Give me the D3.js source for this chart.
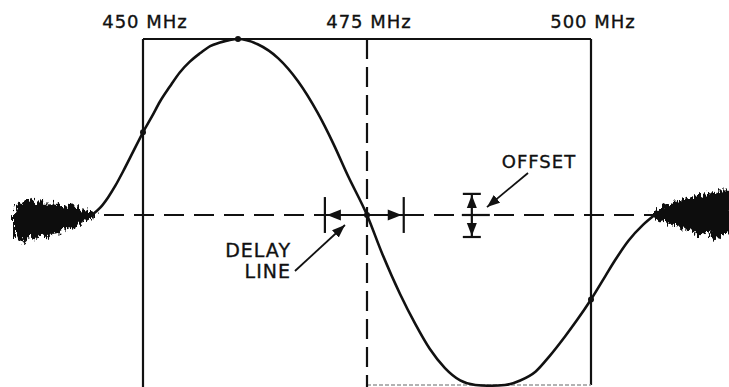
<!DOCTYPE html>
<html>
<head>
<meta charset="utf-8">
<script src="https://cdn.jsdelivr.net/npm/d3@7"></script>
<style>
  html, body { margin: 0; padding: 0; background: #fff; }
  svg { display: block; }
</style>
</head>
<body>
<svg id="chart" width="729" height="387"></svg>
<script>
// Frequency markers along the top edge (MHz)
const tickFreqs = [450, 475, 500];
const tickLabels = ["450 MHz", "475 MHz", "500 MHz"];

// Discriminator response: frequency (MHz) and normalized output
const traceFreq = [444.3, 445.2, 446.1, 446.9, 447.8, 448.9, 450.0, 451.0, 451.9, 453.0, 454.1, 455.2, 456.4, 457.5, 458.6, 459.7, 460.6,
  462.8, 465.1, 467.3, 469.5, 471.2, 472.9, 475.0, 476.7, 478.7, 480.4, 482.0, 483.7, 485.4,
  487.1, 488.7, 490.4, 492.1, 493.8, 495.4, 497.1, 498.4, 500.0, 501.6, 502.7, 504.2, 505.8, 507.1];
const traceValue = [0.0, 0.04, 0.10, 0.165, 0.25, 0.36, 0.47, 0.56, 0.645, 0.73, 0.81, 0.87, 0.92, 0.96, 0.98, 0.995, 1.00,
  0.97, 0.89, 0.76, 0.58, 0.41, 0.22, 0.0, -0.22, -0.45, -0.62, -0.76, -0.87, -0.94,
  -0.966, -0.97, -0.966, -0.94, -0.89, -0.80, -0.69, -0.60, -0.48, -0.347, -0.256, -0.145, -0.056, 0.0];

// Out-of-band noise envelopes (upper / lower edge) on each side
const leftNoiseFreq   = [435.6, 436.0, 436.7, 437.4, 438.0, 438.7, 439.4, 440.1, 440.7, 441.4, 442.1, 442.8, 443.5, 444.1, 444.6];
const leftNoiseTop    = [0.0, 0.045, 0.075, 0.090, 0.062, 0.080, 0.051, 0.065, 0.055, 0.040, 0.048, 0.028, 0.023, 0.017, 0.011];
const leftNoiseBottom = [-0.085, -0.130, -0.150, -0.115, -0.135, -0.100, -0.125, -0.090, -0.100, -0.080, -0.068, -0.051, -0.034, -0.017, 0.0];

const rightNoiseFreq   = [506.8, 507.7, 508.6, 509.5, 510.4, 511.3, 512.2, 513.1, 513.8, 514.5, 515.5];
const rightNoiseTop    = [0.011, 0.030, 0.055, 0.072, 0.085, 0.100, 0.112, 0.122, 0.115, 0.130, 0.145];
const rightNoiseBottom = [-0.006, -0.025, -0.038, -0.060, -0.072, -0.092, -0.112, -0.085, -0.135, -0.115, -0.095];

// Annotations
const delaySpan = [470.3, 479.1];          // delay-line marker limits (MHz)
const offsetFreq = 486.7;                  // offset marker position (MHz)
const offsetSpan = [0.12, -0.125];         // offset marker limits (normalized)
const markerFreqs = [450.0, 460.6, 475.0, 500.0];

const svg = d3.select("#chart");
const W = 729, H = 387;

const x = d3.scaleLinear().domain([450, 500]).range([143, 591]);
const y = d3.scaleLinear().domain([0, 1]).range([215, 39]);
const boxBottom = 385;
const ink = "#111";

const defs = svg.append("defs");
// hairy texture for the noise blobs: fast variation along x, slow along y
const rough = defs.append("filter").attr("id", "ragged")
  .attr("x", "-20%").attr("y", "-80%").attr("width", "140%").attr("height", "260%");
rough.append("feTurbulence").attr("type", "fractalNoise").attr("baseFrequency", "0.45 0.12")
  .attr("numOctaves", 3).attr("seed", 7).attr("result", "t");
rough.append("feDisplacementMap").attr("in", "SourceGraphic").attr("in2", "t")
  .attr("scale", 12).attr("xChannelSelector", "R").attr("yChannelSelector", "G");

function arrowMarker(id, len, half) {
  defs.append("marker").attr("id", id)
    .attr("viewBox", `0 ${-half} ${len} ${half * 2}`)
    .attr("refX", len).attr("refY", 0)
    .attr("markerUnits", "userSpaceOnUse")
    .attr("markerWidth", len).attr("markerHeight", half * 2)
    .attr("orient", "auto")
    .append("path").attr("d", `M0,${-half}L${len},0L0,${half}Z`).attr("fill", ink);
}
arrowMarker("lead", 13, 5);

// frame
const frame = svg.append("g").attr("fill", "none").attr("stroke", ink).attr("stroke-width", 2.2);
frame.append("line").attr("x1", x(450)).attr("x2", x(500)).attr("y1", y(1)).attr("y2", y(1));
frame.append("line").attr("x1", x(450)).attr("x2", x(450)).attr("y1", y(1)).attr("y2", H);
frame.append("line").attr("x1", x(500)).attr("x2", x(500)).attr("y1", y(1)).attr("y2", boxBottom);
svg.append("line").attr("x1", x(475)).attr("x2", x(500)).attr("y1", boxBottom).attr("y2", boxBottom)
  .attr("stroke", "#999").attr("stroke-width", 1.5).attr("stroke-dasharray", "4,2");

// center frequency (dashed)
svg.append("line").attr("x1", x(475)).attr("x2", x(475)).attr("y1", y(1)).attr("y2", H)
  .attr("stroke", ink).attr("stroke-width", 2.2).attr("stroke-dasharray", "20,8");

// zero baseline (dashed)
svg.append("line").attr("x1", 14).attr("x2", W).attr("y1", y(0)).attr("y2", y(0))
  .attr("stroke", ink).attr("stroke-width", 2).attr("stroke-dasharray", "20,10");

// top labels
svg.append("g").selectAll("text").data(tickFreqs).join("text")
  .attr("x", d => x(d) + 2).attr("y", 28)
  .attr("text-anchor", "middle")
  .attr("font-family", "DejaVu Sans, sans-serif").attr("font-size", 18)
  .attr("letter-spacing", 1).attr("fill", ink)
  .attr("stroke", ink).attr("stroke-width", 0.35)
  .text((d, i) => tickLabels[i]);

// noise blobs
const noiseArea = d3.area().x(d => x(d[0])).y0(d => y(d[2])).y1(d => y(d[1])).curve(d3.curveLinear);
const leftNoise = leftNoiseFreq.map((f, i) => [f, leftNoiseTop[i], leftNoiseBottom[i]]);
const rightNoise = rightNoiseFreq.map((f, i) => [f, rightNoiseTop[i], rightNoiseBottom[i]]);
const noiseG = svg.append("g").attr("filter", "url(#ragged)");
[leftNoise, rightNoise].forEach(pts => {
  noiseG.append("path").attr("d", noiseArea(pts))
    .attr("fill", ink).attr("stroke", ink).attr("stroke-width", 2).attr("stroke-linejoin", "round");
});

// response trace
const trace = traceFreq.map((f, i) => [f, traceValue[i]]);
const line = d3.line().x(d => x(d[0])).y(d => y(d[1])).curve(d3.curveMonotoneX);
svg.append("path").attr("d", line(trace))
  .attr("fill", "none").attr("stroke", ink).attr("stroke-width", 2.6).attr("stroke-linecap", "round");

// dots where the trace meets the reference lines
svg.append("g").selectAll("circle").data(markerFreqs).join("circle")
  .attr("cx", d => x(d)).attr("cy", d => y(traceValue[traceFreq.indexOf(d)]))
  .attr("r", 3).attr("fill", ink);

// delay-line dimension
const dl = svg.append("g").attr("stroke", ink).attr("stroke-width", 2.2).attr("fill", "none");
dl.append("line").attr("x1", x(delaySpan[0])).attr("x2", x(delaySpan[1])).attr("y1", y(0)).attr("y2", y(0));
delaySpan.forEach(f => {
  dl.append("line").attr("x1", x(f)).attr("x2", x(f)).attr("y1", y(0.102)).attr("y2", y(-0.102));
});
function tri(tipX, tipY, dx, dy, half, len = 13) {
  // dx,dy = unit direction the arrow points
  const bx = tipX - dx * len, by = tipY - dy * len;
  const px = -dy * half, py = dx * half;
  return `M${tipX},${tipY}L${bx + px},${by + py}L${bx - px},${by - py}Z`;
}
svg.append("path").attr("d", tri(x(delaySpan[0]) + 2, y(0), -1, 0, 5.5, 14)).attr("fill", ink);
svg.append("path").attr("d", tri(x(delaySpan[1]) - 2, y(0), 1, 0, 5.5, 14)).attr("fill", ink);

// offset dimension
const om = svg.append("g").attr("stroke", ink).attr("stroke-width", 2.2);
om.append("line").attr("x1", x(offsetFreq)).attr("x2", x(offsetFreq))
  .attr("y1", y(offsetSpan[0])).attr("y2", y(offsetSpan[1]));
offsetSpan.forEach(v => {
  om.append("line").attr("x1", x(offsetFreq) - 9).attr("x2", x(offsetFreq) + 9)
    .attr("y1", y(v)).attr("y2", y(v));
});
om.append("line").attr("x1", x(offsetFreq) - 10).attr("x2", x(offsetFreq) + 18)
  .attr("y1", y(0)).attr("y2", y(0));
svg.append("path").attr("d", tri(x(offsetFreq), y(offsetSpan[0]) + 1, 0, -1, 5)).attr("fill", ink);
svg.append("path").attr("d", tri(x(offsetFreq), y(offsetSpan[1]) - 1, 0, 1, 5)).attr("fill", ink);

// labels with leader arrows
function label(lines, ax, ay, anchor, size) {
  const t = svg.append("text").attr("font-family", "DejaVu Sans, sans-serif").attr("font-size", size)
    .attr("letter-spacing", 1).attr("fill", ink).attr("stroke", ink).attr("stroke-width", 0.35)
    .attr("text-anchor", anchor);
  lines.forEach((s, i) => t.append("tspan").attr("x", ax).attr("y", ay + i * 21).text(s));
}
label(["DELAY", "LINE"], 291, 257, "end", 19);
label(["OFFSET"], 539, 168, "middle", 18);

svg.append("line")
  .attr("x1", x(466.96)).attr("y1", y(-0.318)).attr("x2", x(472.54)).attr("y2", y(-0.057))
  .attr("stroke", ink).attr("stroke-width", 1.8).attr("marker-end", "url(#lead)");
svg.append("line")
  .attr("x1", x(492.97)).attr("y1", y(0.239)).attr("x2", x(488.39)).attr("y2", y(0.045))
  .attr("stroke", ink).attr("stroke-width", 1.8).attr("marker-end", "url(#lead)");
</script>
</body>
</html>
